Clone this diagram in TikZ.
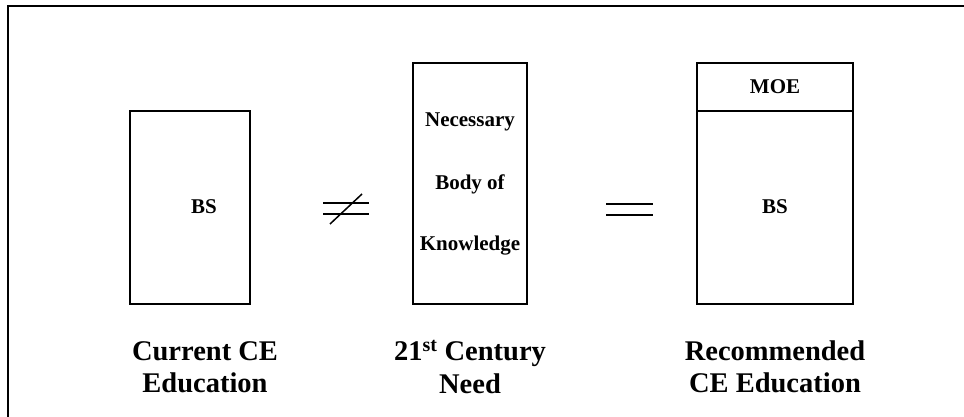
\documentclass[tikz,border=0pt]{standalone}
\usepackage{fontspec}
\setmainfont{Liberation Serif}
\begin{document}
\begin{tikzpicture}[x=1pt,y=-1pt,
  frameline/.style={line width=1.6pt},
  box/.style={draw,line width=1.5pt,inner sep=0pt},
  btext/.style={font=\fontsize{21}{24}\selectfont\bfseries},
  captext/.style={font=\fontsize{28.5}{32.5}\selectfont\bfseries,align=center},
  sym/.style={line width=1.5pt}]
\useasboundingbox (0,0) rectangle (964,417);
\draw[frameline] (964,6) -- (8,6) -- (8,417);
% Box 1
\node[box,minimum width=120pt,minimum height=193pt] (cur) at (190,207.5) {};
\node[btext] (curbs) at (204,207) {BS};
% Box 2
\node[box,minimum width=114pt,minimum height=241pt] (need) at (470,183.5) {};
\node[btext] (nec) at (470,122) {Necessary};
\node[btext] (body) at (470,184) {Body of};
\node[btext] (know) at (470,246) {Knowledge};
% Box 3
\node[box,minimum width=156pt,minimum height=48pt] (moe) at (775,87) {};
\node[box,minimum width=156pt,minimum height=193pt] (rec) at (775,207.5) {};
\node[btext] (moet) at (moe.center) {MOE};
\node[btext] (recbs) at (775,207) {BS};
% not equal
\coordinate (ne1a) at (323,203); \coordinate (ne1b) at (369,203);
\coordinate (ne2a) at (323,214); \coordinate (ne2b) at (369,214);
\coordinate (nesa) at (330,224); \coordinate (nesb) at (362,194);
\draw[sym] (ne1a) -- (ne1b);
\draw[sym] (ne2a) -- (ne2b);
\draw[sym] (nesa) -- (nesb);
% equal
\coordinate (eq1a) at (606,204); \coordinate (eq1b) at (653,204);
\coordinate (eq2a) at (606,215); \coordinate (eq2b) at (653,215);
\draw[sym] (eq1a) -- (eq1b);
\draw[sym] (eq2a) -- (eq2b);
% captions
\node[captext] (c1) at (205,367) {Current CE\\Education};
\node[captext] (c2) at (470,367) {21\textsuperscript{st} Century\\Need};
\node[captext] (c3) at (775,367) {Recommended\\CE Education};
\end{tikzpicture}
\end{document}
